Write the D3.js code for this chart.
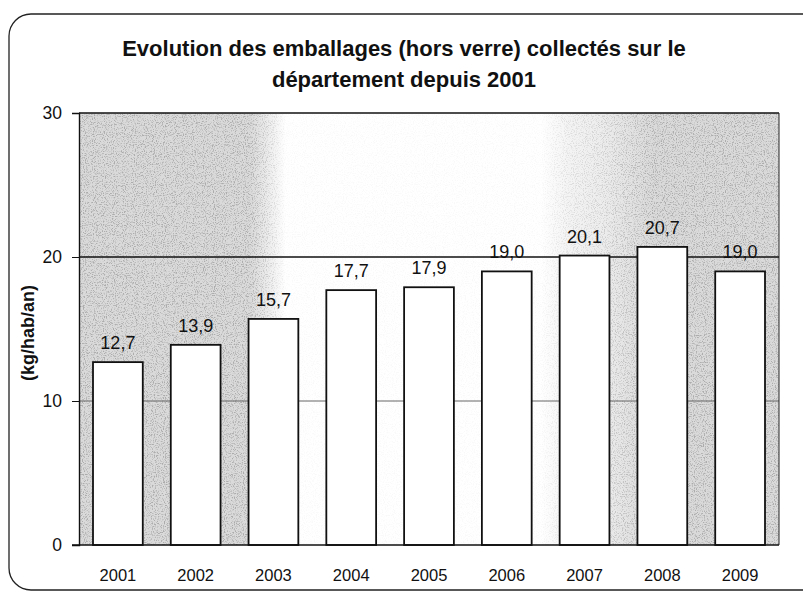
<!DOCTYPE html>
<html>
<head>
<meta charset="utf-8">
<script src="https://cdn.jsdelivr.net/npm/d3@7"></script>
<style>
  body { margin: 0; background: #fff; }
  svg { display: block; font-family: "Liberation Sans", Arial, sans-serif; }
</style>
</head>
<body>
<svg id="svg" width="803" height="604"></svg>
<script>
// data
var years = ["2001", "2002", "2003", "2004", "2005", "2006", "2007", "2008", "2009"];
var values = [12.7, 13.9, 15.7, 17.7, 17.9, 19.0, 20.1, 20.7, 19.0];
var yTicks = [0, 10, 20, 30];
var titleLines = ["Evolution des emballages (hors verre) collectés sur le", "département depuis 2001"];

var svg = d3.select("#svg"),
    width = 803,
    height = 604;

var plot = { left: 79, right: 779, top: 113, bottom: 545 };

// frame around the whole chart
svg.append("rect")
    .attr("x", 9).attr("y", 14)
    .attr("width", 820).attr("height", 576)
    .attr("rx", 22)
    .attr("fill", "none")
    .attr("stroke", "#222")
    .attr("stroke-width", 1.3);

// the scanned background is grey on the sides and nearly white in the middle
var defs = svg.append("defs");
var shade = [[0, 1], [0.245, 1], [0.295, 0], [0.66, 0], [0.7, 0.3], [0.75, 0.5], [0.82, 1], [1, 1]];

var g1 = defs.append("linearGradient").attr("id", "bgShade");
g1.selectAll("stop").data(shade).enter().append("stop")
    .attr("offset", function(d) { return d[0]; })
    .attr("stop-color", "#dadada")
    .attr("stop-opacity", function(d) { return d[1]; });

var g2 = defs.append("linearGradient").attr("id", "grainShade");
g2.selectAll("stop").data(shade).enter().append("stop")
    .attr("offset", function(d) { return d[0]; })
    .attr("stop-color", "#000")
    .attr("stop-opacity", function(d) { return 0.06 + 0.6 * d[1]; });

var f = defs.append("filter").attr("id", "grain")
    .attr("x", 0).attr("y", 0).attr("width", 1).attr("height", 1);
f.append("feTurbulence")
    .attr("type", "fractalNoise")
    .attr("baseFrequency", 0.9)
    .attr("numOctaves", 2)
    .attr("seed", 7)
    .attr("result", "noise");
f.append("feColorMatrix")
    .attr("in", "noise")
    .attr("type", "matrix")
    .attr("values", "0 0 0 0 0.3  0 0 0 0 0.3  0 0 0 0 0.3  0 0 0 -4 2.05")
    .attr("result", "dots");
f.append("feComposite").attr("in", "dots").attr("in2", "SourceGraphic").attr("operator", "in");

var x = d3.scaleBand()
    .domain(years)
    .range([plot.left, plot.right])
    .paddingInner(0.36)
    .paddingOuter(0.18);

var y = d3.scaleLinear()
    .domain([0, 30])
    .range([plot.bottom, plot.top]);

svg.append("rect")
    .attr("x", plot.left).attr("y", plot.top)
    .attr("width", plot.right - plot.left).attr("height", plot.bottom - plot.top)
    .attr("fill", "url(#bgShade)");
svg.append("rect")
    .attr("x", plot.left).attr("y", plot.top)
    .attr("width", plot.right - plot.left).attr("height", plot.bottom - plot.top)
    .attr("fill", "url(#grainShade)")
    .attr("filter", "url(#grain)");

// gridlines
svg.append("g")
    .selectAll("line")
    .data(yTicks.filter(function(d) { return d > 0; }))
    .enter().append("line")
    .attr("x1", plot.left).attr("x2", plot.right)
    .attr("y1", function(d) { return y(d); })
    .attr("y2", function(d) { return y(d); })
    .attr("stroke", function(d) { return d == 10 ? "#666" : "#111"; })
    .attr("stroke-width", function(d) { return d == 10 ? 1 : 1.4; });

// right border of plot
svg.append("line")
    .attr("x1", plot.right).attr("x2", plot.right)
    .attr("y1", plot.top).attr("y2", plot.bottom)
    .attr("stroke", "#222");

// bars
svg.append("g")
    .selectAll("rect")
    .data(values)
    .enter().append("rect")
    .attr("x", function(d, i) { return x(years[i]); })
    .attr("y", function(d) { return y(d); })
    .attr("width", x.bandwidth())
    .attr("height", function(d) { return y(0) - y(d); })
    .attr("fill", "#fff")
    .attr("stroke", "#111")
    .attr("stroke-width", 1.8);

// value labels
svg.append("g")
    .selectAll("text")
    .data(values)
    .enter().append("text")
    .attr("x", function(d, i) { return x(years[i]) + x.bandwidth() / 2; })
    .attr("y", function(d) { return y(d) - 13; })
    .attr("text-anchor", "middle")
    .attr("font-size", 18)
    .attr("fill", "#111")
    .text(function(d) { return d.toFixed(1).replace(".", ","); });

// axes
var yAxis = svg.append("g")
    .attr("transform", "translate(" + plot.left + ",0)")
    .call(d3.axisLeft(y).tickValues(yTicks).tickSize(7).tickPadding(10));
yAxis.select(".domain").attr("stroke", "#111").attr("stroke-width", 1.4);
yAxis.selectAll(".tick line").attr("stroke", "#111");
yAxis.selectAll("text")
    .style("font-size", "17.5px")
    .attr("fill", "#111")
    .style("font-family", "Liberation Sans, Arial, sans-serif");

var xAxis = svg.append("g")
    .attr("transform", "translate(0," + plot.bottom + ")")
    .call(d3.axisBottom(x).tickSize(0).tickPadding(24));
xAxis.select(".domain").attr("stroke", "#111").attr("stroke-width", 1.6)
    .attr("d", "M" + (plot.left - 7) + ",0H" + plot.right);
xAxis.selectAll("text")
    .style("font-size", "16.5px")
    .attr("fill", "#111")
    .style("font-family", "Liberation Sans, Arial, sans-serif");

// y label
svg.append("text")
    .attr("transform", "translate(34,333) rotate(-90)")
    .attr("text-anchor", "middle")
    .attr("font-size", 18)
    .attr("font-weight", "bold")
    .attr("fill", "#111")
    .text("(kg/hab/an)");

// title
svg.append("g")
    .selectAll("text")
    .data(titleLines)
    .enter().append("text")
    .attr("x", 404)
    .attr("y", function(d, i) { return 56 + i * 31; })
    .attr("text-anchor", "middle")
    .attr("font-size", 22)
    .attr("font-weight", "bold")
    .attr("fill", "#111")
    .text(function(d) { return d; });
</script>
</body>
</html>
